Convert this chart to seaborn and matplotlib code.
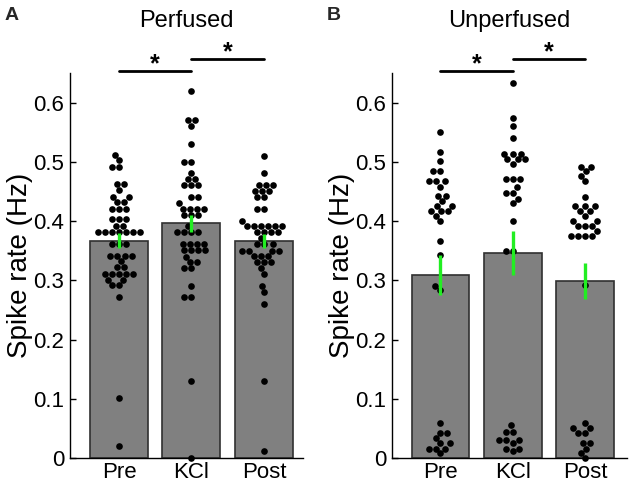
import numpy as np
import pandas as pd
import matplotlib
matplotlib.use("Agg")
import matplotlib.pyplot as plt
import seaborn as sns

conditions = ["Pre", "KCl", "Post"]

# Perfused (panel A) spike rates (Hz)
perf_pre = [0.512, 0.503, 0.491, 0.491, 0.463, 0.463, 0.452, 0.440, 0.440,
            0.432, 0.432, 0.421, 0.421, 0.421, 0.403, 0.403, 0.403, 0.391,
            0.391, 0.381, 0.381, 0.381, 0.381, 0.381, 0.381, 0.381, 0.361,
            0.361, 0.361, 0.341, 0.341, 0.341, 0.341, 0.332, 0.322, 0.322,
            0.311, 0.311, 0.311, 0.311, 0.311, 0.301, 0.301, 0.292, 0.292,
            0.271, 0.101, 0.021]
perf_kcl = [0.620, 0.571, 0.571, 0.561, 0.530, 0.500, 0.500, 0.481, 0.471,
            0.471, 0.461, 0.461, 0.461, 0.440, 0.440, 0.430, 0.421, 0.421,
            0.421, 0.421, 0.410, 0.410, 0.410, 0.391, 0.381, 0.381, 0.381,
            0.381, 0.362, 0.362, 0.362, 0.362, 0.351, 0.351, 0.351, 0.351,
            0.340, 0.331, 0.331, 0.320, 0.320, 0.291, 0.271, 0.271, 0.130,
            0.000]
perf_post = [0.510, 0.481, 0.461, 0.461, 0.461, 0.451, 0.451, 0.451, 0.440,
             0.440, 0.421, 0.421, 0.400, 0.391, 0.391, 0.391, 0.391, 0.391,
             0.391, 0.381, 0.381, 0.381, 0.381, 0.371, 0.361, 0.361, 0.361,
             0.350, 0.350, 0.350, 0.350, 0.341, 0.341, 0.341, 0.331, 0.331,
             0.331, 0.320, 0.310, 0.291, 0.280, 0.260, 0.130, 0.011]

# Unperfused (panel B) spike rates (Hz)
unperf_pre = [0.550, 0.517, 0.501, 0.484, 0.484, 0.467, 0.467, 0.467, 0.458,
              0.443, 0.443, 0.434, 0.426, 0.426, 0.417, 0.417, 0.417, 0.409,
              0.400, 0.367, 0.342, 0.290, 0.283, 0.059, 0.042, 0.042, 0.033,
              0.025, 0.025, 0.016, 0.016, 0.016, 0.008]
unperf_kcl = [0.633, 0.574, 0.560, 0.540, 0.514, 0.514, 0.514, 0.504, 0.504,
              0.504, 0.497, 0.471, 0.471, 0.471, 0.457, 0.448, 0.448, 0.438,
              0.430, 0.400, 0.350, 0.350, 0.055, 0.044, 0.044, 0.030, 0.030,
              0.030, 0.025, 0.016, 0.016, 0.012]
unperf_post = [0.492, 0.492, 0.484, 0.476, 0.467, 0.441, 0.425, 0.425, 0.425,
               0.417, 0.417, 0.409, 0.400, 0.400, 0.392, 0.392, 0.392, 0.383,
               0.375, 0.375, 0.375, 0.375, 0.292, 0.059, 0.050, 0.050, 0.042,
               0.042, 0.026, 0.026, 0.016, 0.009, 0.000]

perf_means = [0.367, 0.396, 0.367]
perf_sem = [0.013, 0.015, 0.012]
unperf_means = [0.309, 0.346, 0.299]
unperf_sem = [0.034, 0.037, 0.031]

yticks = [0, 0.1, 0.2, 0.3, 0.4, 0.5, 0.6]
ytick_labels = ["0", "0.1", "0.2", "0.3", "0.4", "0.5", "0.6"]

sns.set_theme(style="ticks")
plt.rcParams["font.family"] = ["Liberation Sans", "DejaVu Sans"]

fig = plt.figure(figsize=(6.3, 4.9), dpi=100)
axA = fig.add_axes([70 / 630, 32 / 490, 233 / 630, 385 / 490])
axB = fig.add_axes([392 / 630, 32 / 490, 235 / 630, 385 / 490])


def draw(ax, pts, means, sems, title, xlim):
    df = pd.DataFrame({
        "cond": np.repeat(conditions, [len(p) for p in pts]),
        "rate": np.concatenate(pts),
    })
    mdf = pd.DataFrame({"cond": conditions, "rate": means})
    sns.barplot(data=mdf, x="cond", y="rate", order=conditions,
                color="#808080", saturation=1, edgecolor="#303030",
                linewidth=1.2, width=0.8, errorbar=None, ax=ax, zorder=1)
    sns.swarmplot(data=df, x="cond", y="rate", order=conditions,
                  color="black", size=4.8, ax=ax, zorder=3)
    for c in ax.collections:
        c.set_clip_on(False)
    ax.errorbar(x=np.arange(3), y=means, yerr=sems, fmt="none",
                ecolor="#22ee22", elinewidth=2.4, capsize=0, zorder=4)
    ax.set_xlim(*xlim)
    ax.set_ylim(0, 0.65)
    ax.set_yticks(yticks)
    ax.set_yticklabels(ytick_labels)
    sns.despine(ax=ax)
    for s in ["left", "bottom"]:
        ax.spines[s].set_color("black")
        ax.spines[s].set_linewidth(1.0)
    ax.tick_params(axis="y", direction="in", length=4, width=1,
                   labelsize=16, pad=4, colors="black")
    ax.tick_params(axis="x", length=0, labelsize=16, pad=3, colors="black")
    ax.set_xlabel("")
    ax.set_ylabel("Spike rate (Hz)", fontsize=20, color="black")
    ax.yaxis.set_label_coords(-0.158, 0.5)
    ax.text(0.5, 1.135, title, transform=ax.transAxes, ha="center",
            va="center", fontsize=17, color="black")
    # significance bars
    ax.plot([0, 1], [0.654, 0.654], color="black", lw=2, clip_on=False)
    ax.plot([1, 2], [0.673, 0.673], color="black", lw=2, clip_on=False)
    ax.text(0.5, 0.645, "*", ha="center", va="bottom", fontsize=18,
            fontweight="bold", color="black")
    ax.text(1.5, 0.664, "*", ha="center", va="bottom", fontsize=18,
            fontweight="bold", color="black")


draw(axA, [perf_pre, perf_kcl, perf_post], perf_means, perf_sem,
     "Perfused", (-0.676, 2.54))
draw(axB, [unperf_pre, unperf_kcl, unperf_post], unperf_means, unperf_sem,
     "Unperfused", (-0.67, 2.58))

fig.text(12 / 630, 1 - 15 / 490, "A", fontweight="bold", fontsize=14,
         ha="center", va="center")
fig.text(334 / 630, 1 - 15 / 490, "B", fontweight="bold", fontsize=14,
         ha="center", va="center")

fig.savefig("out.png", dpi=100)
